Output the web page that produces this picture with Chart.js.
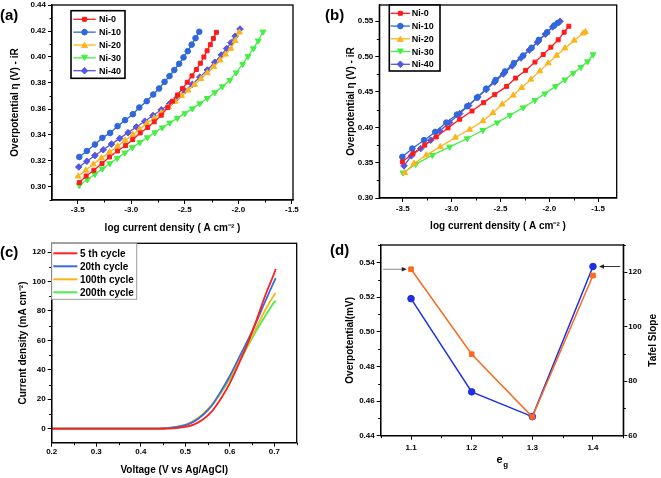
<!DOCTYPE html>
<html>
<head>
<meta charset="utf-8">
<script src="https://cdn.jsdelivr.net/npm/chart.js@4.4.1/dist/chart.umd.min.js"></script>
<style>
  html,body{margin:0;padding:0;background:#fff;}
  #wrap{position:relative;width:661px;height:478px;background:#fff;overflow:hidden;}
  canvas{position:absolute;}
  .lab{position:absolute;font:bold 15px 'Liberation Sans',Arial,sans-serif;line-height:15px;color:#000;z-index:5;}
</style>
</head>
<body>
<div id="wrap">
  <canvas id="ca" width="330" height="240" style="left:0;top:0;width:330px;height:240px"></canvas>
  <canvas id="cb" width="331" height="240" style="left:330px;top:0;width:331px;height:240px"></canvas>
  <canvas id="cc" width="330" height="238" style="left:0;top:240px;width:330px;height:238px"></canvas>
  <canvas id="cd" width="331" height="238" style="left:330px;top:240px;width:331px;height:238px"></canvas>
  <div class="lab" style="left:0;top:7px">(a)</div>
  <div class="lab" style="left:325px;top:7px">(b)</div>
  <div class="lab" style="left:0;top:244px">(c)</div>
  <div class="lab" style="left:330px;top:242px">(d)</div>
</div>
<script>
// ---------------- DATA ----------------
const seriesNames = ['Ni-0', 'Ni-10', 'Ni-20', 'Ni-30', 'Ni-40'];

// panel (a): Tafel, overpotential vs log j
const aNi0X  = [-3.485,-3.421,-3.349,-3.273,-3.203,-3.128,-3.052,-2.986,-2.916,-2.847,-2.786,-2.720,-2.659,-2.615,-2.568,-2.522,-2.477,-2.433,-2.392,-2.355,-2.322,-2.292,-2.262,-2.233,-2.205];
const aNi0Y  = [0.3034,0.3085,0.3129,0.3180,0.3231,0.3277,0.3319,0.3365,0.3416,0.3458,0.3501,0.3552,0.3612,0.3660,0.3708,0.3757,0.3806,0.3855,0.3904,0.3952,0.4000,0.4048,0.4095,0.4143,0.4190];
const aNi10X = [-3.485,-3.415,-3.339,-3.270,-3.197,-3.128,-3.058,-2.985,-2.925,-2.856,-2.795,-2.740,-2.689,-2.643,-2.598,-2.553,-2.512,-2.473,-2.436,-2.400,-2.365];
const aNi10Y = [0.3231,0.3277,0.3327,0.3378,0.3416,0.3468,0.3514,0.3560,0.3612,0.3660,0.3712,0.3758,0.3809,0.3853,0.3900,0.3948,0.3997,0.4045,0.4095,0.4145,0.4194];
const aNi20X = [-3.496,-3.424,-3.355,-3.279,-3.203,-3.128,-3.058,-2.985,-2.922,-2.856,-2.786,-2.720,-2.653,-2.590,-2.530,-2.470,-2.410,-2.350,-2.290,-2.230,-2.170,-2.120,-2.070,-2.030,-1.990];
const aNi20Y = [0.3082,0.3128,0.3175,0.3222,0.3268,0.3314,0.3358,0.3402,0.3444,0.3488,0.3530,0.3572,0.3615,0.3658,0.3700,0.3743,0.3787,0.3832,0.3877,0.3925,0.3975,0.4020,0.4065,0.4125,0.4190];
const aNi30X = [-3.485,-3.410,-3.340,-3.270,-3.200,-3.130,-3.060,-2.990,-2.920,-2.850,-2.780,-2.710,-2.640,-2.570,-2.500,-2.430,-2.360,-2.290,-2.220,-2.150,-2.080,-2.020,-1.960,-1.910,-1.860,-1.815,-1.770];
const aNi30Y = [0.3013,0.3057,0.3098,0.3140,0.3181,0.3222,0.3263,0.3304,0.3343,0.3381,0.3419,0.3457,0.3494,0.3530,0.3566,0.3603,0.3642,0.3683,0.3727,0.3773,0.3822,0.3880,0.3945,0.4005,0.4065,0.4125,0.4194];
const aNi40X = [-3.490,-3.415,-3.339,-3.262,-3.185,-3.108,-3.030,-2.952,-2.874,-2.797,-2.720,-2.643,-2.570,-2.500,-2.430,-2.360,-2.290,-2.220,-2.160,-2.110,-2.069,-2.030,-1.985];
const aNi40Y = [0.3154,0.3198,0.3242,0.3286,0.3330,0.3374,0.3418,0.3462,0.3506,0.3550,0.3594,0.3640,0.3688,0.3740,0.3790,0.3845,0.3900,0.3960,0.4015,0.4065,0.4110,0.4160,0.4215];
const aXTicks = ['-3.5','-3.0','-2.5','-2.0','-1.5'];
const aYTicks = ['0.30','0.32','0.34','0.36','0.38','0.40','0.42','0.44'];

// panel (b)
const bNi0X  = [-3.504,-3.395,-3.275,-3.157,-3.037,-2.917,-2.791,-2.672,-2.559,-2.437,-2.345,-2.242,-2.147,-2.062,-1.984,-1.909,-1.848,-1.800];
const bNi0Y  = [0.3512,0.3630,0.3747,0.3864,0.3991,0.4114,0.4231,0.4349,0.4462,0.4579,0.4696,0.4805,0.4922,0.5030,0.5133,0.5237,0.5345,0.5430];
const bNi10X = [-3.504,-3.402,-3.282,-3.167,-3.054,-2.945,-2.840,-2.740,-2.645,-2.550,-2.454,-2.362,-2.267,-2.181,-2.106,-2.022,-1.950,-1.915];
const bNi10Y = [0.3582,0.3700,0.3818,0.3935,0.4067,0.4180,0.4297,0.4420,0.4547,0.4668,0.4790,0.4908,0.5016,0.5125,0.5237,0.5345,0.5440,0.5475];
const bNi20X = [-3.480,-3.384,-3.259,-3.116,-2.962,-2.815,-2.679,-2.577,-2.482,-2.369,-2.283,-2.188,-2.096,-2.011,-1.925,-1.840,-1.745,-1.653,-1.630];
const bNi20Y = [0.3357,0.3489,0.3606,0.3723,0.3856,0.3968,0.4090,0.4203,0.4325,0.4452,0.4560,0.4678,0.4795,0.4908,0.5016,0.5119,0.5228,0.5330,0.5350];
const bNi30X = [-3.497,-3.367,-3.197,-3.020,-2.840,-2.679,-2.533,-2.403,-2.267,-2.147,-2.045,-1.936,-1.840,-1.755,-1.677,-1.608,-1.551];
const bNi30Y = [0.3357,0.3479,0.3606,0.3723,0.3842,0.3959,0.4066,0.4170,0.4279,0.4382,0.4476,0.4579,0.4673,0.4767,0.4851,0.4931,0.5030];
const bNi40X = [-3.487,-3.412,-3.316,-3.214,-3.122,-3.020,-2.917,-2.825,-2.730,-2.645,-2.559,-2.470,-2.380,-2.290,-2.205,-2.120,-2.040,-1.965,-1.890];
const bNi40Y = [0.3455,0.3597,0.3700,0.3818,0.3949,0.4067,0.4194,0.4307,0.4428,0.4533,0.4640,0.4755,0.4868,0.4980,0.5092,0.5205,0.5318,0.5420,0.5500];
const bXTicks = ['-3.5','-3.0','-2.5','-2.0','-1.5'];
const bYTicks = ['0.30','0.35','0.40','0.45','0.50','0.55'];

// panel (c): LSV cycles
const cycleNames = ['5 th cycle', '20th cycle', '100th cycle', '200th cycle'];
const cVolt   = [0.20,0.25,0.30,0.35,0.40,0.44,0.46,0.48,0.50,0.52,0.54,0.56,0.58,0.60,0.62,0.64,0.66,0.68,0.70,0.703];
const c5th    = [0,0,0,0,0,0,0.1,0.4,1.2,3.0,6.5,12.0,20.5,31.0,44.0,58.0,74.0,91.0,106.0,108.5];
const c20th   = [0,0,0,0,0,0.1,0.4,1.2,2.4,5.0,9.5,16.0,25.5,36.0,48.0,60.0,73.0,87.0,100.5,102.3];
const c100th  = [0,0,0,0,0,0.1,0.5,1.3,2.6,5.5,10.0,16.5,25.0,35.0,46.0,57.0,69.0,81.0,91.0,92.1];
const c200th  = [0,0,0,0,0,0.1,0.5,1.3,2.6,5.5,10.0,16.0,24.5,34.0,45.0,56.0,67.0,77.0,86.0,86.9];
const cXTicks = ['0.2','0.3','0.4','0.5','0.6','0.7'];
const cYTicks = ['0','20','40','60','80','100','120'];

// panel (d): eg vs overpotential / Tafel slope
const dEg        = [1.1, 1.2, 1.3, 1.4];
const dOverpot   = [0.536, 0.487, 0.4509, 0.5324];
const dTafel     = [110.3, 76.1, 67.0, 122.1];
const dXTicks  = ['1.1','1.2','1.3','1.4'];
const dYTicks  = ['0.44','0.46','0.48','0.50','0.52','0.54'];
const dY2Ticks = ['60','80','100','120'];
const dArrowFrom = [1.054, 1.445];
const dArrowTo   = [1.093, 1.410];
const dArrowAt   = [0.536, 122.1];
const dArrowAxis = ['y', 'y2'];

// ---------------- STYLE ----------------
const FONT = "'Liberation Sans', Arial, Helvetica, sans-serif";
Chart.defaults.font.family = FONT;
Chart.defaults.color = '#000';

const niStyle = [
  {color:'#ff1a1a', ps:'rect',     r:2.8, rot:0},
  {color:'#2f67dc', ps:'circle',   r:2.8, rot:0},
  {color:'#fbb41c', ps:'triangle', r:3.4, rot:0},
  {color:'#44ef44', ps:'triangle', r:3.4, rot:180},
  {color:'#5656e2', ps:'rectRot',  r:3.3, rot:0}
];
const cycColors = ['#ff1f1f', '#3a6be0', '#ffb21a', '#47ef47'];

const pts = (xs, ys) => xs.map((x, i) => ({x: x, y: ys[i]}));

function niSets(pairs) {
  return pairs.map((p, i) => ({
    label: seriesNames[i],
    data: pts(p[0], p[1]),
    borderColor: niStyle[i].color,
    backgroundColor: niStyle[i].color,
    borderWidth: 1.3,
    pointStyle: niStyle[i].ps,
    pointRotation: niStyle[i].rot,
    pointRadius: niStyle[i].r,
    pointBorderWidth: 1,
    tension: 0
  }));
}

function scale(o) {
  const horiz = o.pos === 'bottom';
  return {
    type: 'linear', position: o.pos, min: o.min, max: o.max,
    afterBuildTicks: s => { s.ticks = o.labels.map(l => ({value: parseFloat(l)})); },
    afterFit: s => {
      if (horiz) { s.height = o.size; s.paddingLeft = 0; s.paddingRight = 0; }
      else { s.width = o.size; s.paddingTop = 0; s.paddingBottom = 0; }
    },
    ticks: {
      autoSkip: false, maxRotation: 0, minRotation: 0,
      padding: o.tickPad !== undefined ? o.tickPad : 2,
      color: '#000', font: {size: 8, weight: 'bold'},
      callback: (v, i) => o.labels[i]
    },
    grid: {display: true, drawOnChartArea: false, drawTicks: true, tickLength: 4, tickWidth: 1, tickColor: '#000', color: '#000'},
    border: {display: true, color: '#000', width: 1.3},
    title: o.title ? {
      display: true, text: o.title, color: '#000', font: {size: 10, weight: 'bold'},
      padding: horiz ? {top: 0, bottom: o.tpad} : {top: o.tpad, bottom: 0}
    } : {display: false}
  };
}

// ---------------- PLUGINS ----------------
function marker(ctx, style, r, rot, x, y) {
  ctx.save();
  ctx.translate(x, y);
  ctx.rotate(rot * Math.PI / 180);
  ctx.beginPath();
  if (style === 'circle') { ctx.arc(0, 0, r, 0, Math.PI * 2); }
  else if (style === 'rect') { const s = r / Math.SQRT2 * 1.0; ctx.rect(-s, -s, 2 * s, 2 * s); }
  else if (style === 'rectRot') { ctx.moveTo(0, -r); ctx.lineTo(r, 0); ctx.lineTo(0, r); ctx.lineTo(-r, 0); ctx.closePath(); }
  else if (style === 'triangle') {
    for (let k = 0; k < 3; k++) {
      const a = -Math.PI / 2 + k * 2 * Math.PI / 3;
      const px = Math.cos(a) * r, py = Math.sin(a) * r + r * 0.25;
      if (k === 0) ctx.moveTo(px, py); else ctx.lineTo(px, py);
    }
    ctx.closePath();
  }
  ctx.fill(); ctx.stroke();
  ctx.restore();
}

const framePlugin = {
  id: 'frame',
  afterDraw(chart) {
    const {ctx, chartArea: ca} = chart;
    ctx.save();
    ctx.strokeStyle = '#000';
    ctx.lineWidth = 1;
    for (const s of Object.values(chart.scales)) {
      const v = s.ticks.map(t => t.value);
      if (v.length < 2) continue;
      const st = (v[1] - v[0]) / 2;
      const lo = Math.min(s.min, s.max), hi = Math.max(s.min, s.max);
      ctx.beginPath();
      for (let k = Math.ceil((lo - v[0]) / st - 1e-6); ; k++) {
        const val = v[0] + k * st;
        if (val > hi + 1e-9) break;
        if (Math.abs(k % 2) === 0) continue;
        const p = Math.round(s.getPixelForValue(val)) + 0.5;
        if (s.position === 'bottom') { ctx.moveTo(p, ca.bottom); ctx.lineTo(p, ca.bottom + 2.5); }
        else if (s.position === 'left') { ctx.moveTo(ca.left, p); ctx.lineTo(ca.left - 2.5, p); }
        else if (s.position === 'right') { ctx.moveTo(ca.right, p); ctx.lineTo(ca.right + 2.5, p); }
      }
      ctx.stroke();
    }
    ctx.lineWidth = 1.3;
    ctx.strokeRect(ca.left, ca.top, ca.right - ca.left, ca.bottom - ca.top);
    ctx.restore();
  }
};

const boxLegend = {
  id: 'boxLegend',
  afterDraw(chart, args, o) {
    if (!o || !o.show) return;
    const ctx = chart.ctx;
    ctx.save();
    ctx.fillStyle = '#fff';
    ctx.fillRect(o.x, o.y, o.w, o.h);
    ctx.strokeStyle = o.borderColor; ctx.lineWidth = o.borderWidth;
    ctx.strokeRect(o.x, o.y, o.w, o.h);
    ctx.font = 'bold ' + o.fontSize + 'px ' + FONT;
    ctx.textBaseline = 'middle'; ctx.textAlign = 'left';
    chart.data.datasets.forEach((ds, i) => {
      const y = o.y + o.row0 + i * o.rowH;
      ctx.strokeStyle = ds.borderColor;
      ctx.lineWidth = o.lineWidth;
      ctx.beginPath(); ctx.moveTo(o.x + o.l0, y); ctx.lineTo(o.x + o.l1, y); ctx.stroke();
      if (ds.pointRadius > 0) {
        ctx.fillStyle = ds.backgroundColor; ctx.lineWidth = 1;
        marker(ctx, ds.pointStyle, ds.pointRadius, ds.pointRotation || 0, o.x + (o.l0 + o.l1) / 2, y);
      }
      ctx.fillStyle = '#000';
      ctx.fillText(ds.label, o.x + o.tx, y + 0.5);
    });
    ctx.restore();
  }
};

const extraText = {
  id: 'extraText',
  afterDraw(chart, args, o) {
    if (!o || !o.items) return;
    const ctx = chart.ctx, ca = chart.chartArea;
    o.items.forEach(it => {
      ctx.save();
      const x = it.x === 'center' ? (ca.left + ca.right) / 2 : it.x;
      const y = it.y === 'middle' ? (ca.top + ca.bottom) / 2 : it.y;
      ctx.translate(x, y);
      ctx.rotate((it.rot || 0) * Math.PI / 180);
      ctx.fillStyle = '#000'; ctx.textBaseline = 'middle'; ctx.textAlign = 'left';
      ctx.font = 'bold ' + it.size + 'px ' + FONT;
      const w1 = ctx.measureText(it.text).width;
      let w2 = 0;
      if (it.sub) { ctx.font = 'bold ' + (it.size * 0.72) + 'px ' + FONT; w2 = ctx.measureText(it.sub).width; }
      const x0 = -(w1 + w2) / 2;
      ctx.font = 'bold ' + it.size + 'px ' + FONT;
      ctx.fillText(it.text, x0, 0);
      if (it.sub) { ctx.font = 'bold ' + (it.size * 0.72) + 'px ' + FONT; ctx.fillText(it.sub, x0 + w1 + 0.5, it.size * 0.4); }
      ctx.restore();
    });
  }
};

const arrowPlugin = {
  id: 'arrows',
  afterDraw(chart, args, o) {
    if (!o || !o.show) return;
    const ctx = chart.ctx, xs = chart.scales.x;
    dArrowFrom.forEach((f, i) => {
      const ys = chart.scales[dArrowAxis[i]];
      const x0 = xs.getPixelForValue(f), x1 = xs.getPixelForValue(dArrowTo[i]);
      const y = ys.getPixelForValue(dArrowAt[i]);
      const dir = Math.sign(x1 - x0);
      ctx.save();
      ctx.strokeStyle = i === 0 ? '#8a8a8a' : '#333';
      ctx.lineWidth = 1;
      ctx.beginPath(); ctx.moveTo(x0, y); ctx.lineTo(x1 - dir * 4, y); ctx.stroke();
      ctx.fillStyle = '#222';
      ctx.beginPath(); ctx.moveTo(x1, y); ctx.lineTo(x1 - dir * 5, y - 2.3); ctx.lineTo(x1 - dir * 5, y + 2.3); ctx.closePath(); ctx.fill();
      ctx.restore();
    });
  }
};

const common = {
  responsive: false, animation: false, devicePixelRatio: 1, events: [],
};

// ---------------- CHART (a) ----------------
new Chart(document.getElementById('ca'), {
  type: 'line',
  data: {datasets: niSets([[aNi0X, aNi0Y], [aNi10X, aNi10Y], [aNi20X, aNi20Y], [aNi30X, aNi30Y], [aNi40X, aNi40Y]])},
  options: Object.assign({}, common, {
    layout: {padding: {top: 5, right: 37, bottom: 0, left: 0}},
    scales: {
      x: scale({pos: 'bottom', min: -3.74, max: -1.49, labels: aXTicks, title: 'log current density ( A cm\u207B\u00B2 )', tpad: 5.7, size: 40, tickPad: 1}),
      y: scale({pos: 'left', min: 0.29, max: 0.44, labels: aYTicks, title: 'Overpotential \u03B7 (V) - iR', tpad: 9, size: 52})
    },
    plugins: {
      legend: {display: false}, tooltip: {enabled: false},
      boxLegend: {show: true, x: 71, y: 10.7, w: 54, h: 67.6, row0: 8.6, rowH: 12.85, l0: 2.3, l1: 24.7, tx: 28, fontSize: 9, borderColor: '#000', borderWidth: 1.6, lineWidth: 1.3}
    }
  }),
  plugins: [framePlugin, boxLegend]
});

// ---------------- CHART (b) ----------------
new Chart(document.getElementById('cb'), {
  type: 'line',
  data: {datasets: niSets([[bNi0X, bNi0Y], [bNi10X, bNi10Y], [bNi20X, bNi20Y], [bNi30X, bNi30Y], [bNi40X, bNi40Y]])},
  options: Object.assign({}, common, {
    layout: {padding: {top: 4.5, right: 44.3, bottom: 0, left: 0}},
    scales: {
      x: scale({pos: 'bottom', min: -3.74, max: -1.31, labels: bXTicks, title: 'log current density ( A cm\u207B\u00B2 )', tpad: 7.3, size: 42, tickPad: 1.5}),
      y: scale({pos: 'left', min: 0.30, max: 0.573, labels: bYTicks, title: 'Overpotential \u03B7 (V) - iR', tpad: 15.7, size: 49.3})
    },
    plugins: {
      legend: {display: false}, tooltip: {enabled: false},
      boxLegend: {show: true, x: 59.3, y: 5, w: 50.7, h: 66, row0: 8.3, rowH: 12.75, l0: 1.4, l1: 20.7, tx: 22.4, fontSize: 9, borderColor: '#000', borderWidth: 1.6, lineWidth: 1.3}
    }
  }),
  plugins: [framePlugin, boxLegend]
});

// ---------------- CHART (c) ----------------
const cSeries = [c5th, c20th, c100th, c200th];
new Chart(document.getElementById('cc'), {
  type: 'line',
  data: {datasets: cSeries.map((s, i) => ({
    label: cycleNames[i], data: pts(cVolt, s),
    borderColor: cycColors[i], backgroundColor: cycColors[i],
    borderWidth: 1.8, pointRadius: 0, cubicInterpolationMode: 'monotone'
  }))},
  options: Object.assign({}, common, {
    layout: {padding: {top: 3.3, right: 33.3, bottom: 0, left: 0}},
    scales: {
      x: scale({pos: 'bottom', min: 0.2, max: 0.75, labels: cXTicks, title: 'Voltage (V vs Ag/AgCl)', tpad: 2, size: 35.3, tickPad: 0}),
      y: scale({pos: 'left', min: -9.5, max: 126, labels: cYTicks, title: 'Current density (mA cm\u207B\u00B2)', tpad: 17.3, size: 51.7})
    },
    plugins: {
      legend: {display: false}, tooltip: {enabled: false},
      boxLegend: {show: true, x: 51.7, y: 3.3, w: 85, h: 56, row0: 10, rowH: 13, l0: 1.6, l1: 25.6, tx: 28.3, fontSize: 10, borderColor: '#9a9a9a', borderWidth: 1, lineWidth: 2}
    }
  }),
  plugins: [framePlugin, boxLegend]
});

// ---------------- CHART (d) ----------------
new Chart(document.getElementById('cd'), {
  type: 'line',
  data: {datasets: [
    {label: 'Overpotential', data: pts(dEg, dOverpot), yAxisID: 'y', borderColor: '#fa6a1f', backgroundColor: '#fa6a1f', borderWidth: 1.5, pointStyle: 'rect', pointRadius: 3.3, pointBorderWidth: 1, tension: 0},
    {label: 'Tafel Slope', data: pts(dEg, dTafel), yAxisID: 'y2', borderColor: '#1e2fe4', backgroundColor: '#1e2fe4', borderWidth: 1.5, pointStyle: 'circle', pointRadius: 3.3, pointBorderWidth: 1, tension: 0}
  ]},
  options: Object.assign({}, common, {
    layout: {padding: {top: 4, right: 0, bottom: 0, left: 0}},
    scales: {
      x: scale({pos: 'bottom', min: 1.05, max: 1.45, labels: dXTicks, title: null, size: 42.3, tickPad: 3}),
      y: scale({pos: 'left', min: 0.44, max: 0.55, labels: dYTicks, title: 'Overpotential(mV)', tpad: 14.7, size: 50.7}),
      y2: scale({pos: 'right', min: 60, max: 130, labels: dY2Ticks, title: null, size: 37.7, tickPad: 1})
    },
    plugins: {
      legend: {display: false}, tooltip: {enabled: false},
      arrows: {show: true},
      extraText: {items: [
        {text: 'e', sub: 'g', x: 'center', y: 220, size: 11},
        {text: 'Tafel Slope', x: 323.3, y: 'middle', rot: -90, size: 10}
      ]}
    }
  }),
  plugins: [framePlugin, arrowPlugin, extraText]
});
</script>
</body>
</html>
